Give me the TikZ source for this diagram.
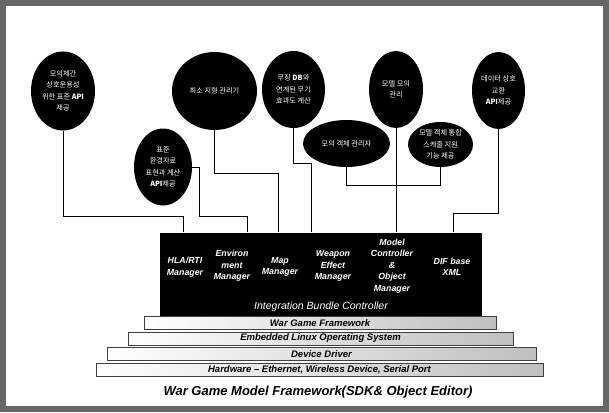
\documentclass[tikz,border=0pt]{standalone}
\usepackage{fontspec}
\setmainfont{Liberation Sans}
\newfontfamily\kr{Noto Sans CJK KR}
\usetikzlibrary{shapes.geometric}
\begin{document}
\begin{tikzpicture}[x=1pt,y=-1pt,
    bubble/.style={ellipse,fill=black,text=white,inner sep=0pt,align=center,font=\kr\fontsize{7.2}{11.5}\selectfont},
    wire/.style={line width=0.9pt},
    layer/.style={draw=black!75,line width=0.6pt,left color=white,right color=black!25,minimum height=13pt,inner sep=0pt,font=\bfseries\itshape\fontsize{9.5}{10}\selectfont},
    mgr/.style={text=white,align=center,font=\bfseries\itshape\fontsize{8.8}{11.6}\selectfont}]
    \useasboundingbox (0,0) rectangle (609,412);
    \fill[black!60] (0,0) rectangle (609,412);
    \fill[white] (6,6) rectangle (603,406);

    % integration bundle block
    \node[fill=black,minimum width=322pt,minimum height=84pt,inner sep=0pt] (blk) at (321,274.5) {};
    \node[mgr] (hla) at (185,267) {HLA/RTI\\Manager};
    \node[mgr] (env) at (232,266) {Environ\\ment\\Manager};
    \node[mgr] (map) at (280,267) {Map\\Manager};
    \node[mgr] (wpn) at (333,266) {Weapon\\Effect\\Manager};
    \node[mgr] (mdl) at (392,266) {Model\\Controller\\\&\\Object\\Manager};
    \node[mgr] (dif) at (452,267) {DIF base\\XML};
    \node[text=white,font=\itshape\fontsize{10.5}{12}\selectfont] (ibc) at (321,307) {Integration Bundle Controller};

    % layers
    \node[layer,minimum width=352pt] (wgf) at (320,323) {War Game Framework};
    \node[layer,minimum width=385pt] (elos) at (320.5,338.5) {Embedded Linux Operating System};
    \node[layer,minimum width=429pt] (dd) at (321.5,354) {Device Driver};
    \node[layer,minimum width=447pt] (hw) at (319.5,369.5) {Hardware -- Ethernet, Wireless Device, Serial Port};

    \node[font=\bfseries\itshape\fontsize{13}{15}\selectfont] (ttl) at (318,392) {War Game Model Framework(SDK\& Object Editor)};

    % bubbles
    \node[bubble,minimum width=64pt,minimum height=79pt] (e1) at (63,91) {모의체간\\상호운용성\\위한 표준 \textbf{API}\\제공};
    \node[bubble,minimum width=58pt,minimum height=77pt] (e2) at (163,167) {표준\\환경자료\\표현과 계산\\\textbf{API}제공};
    \node[bubble,minimum width=85pt,minimum height=78pt] (e3) at (214.5,91) {최소 지형 관리기};
    \node[bubble,minimum width=63pt,minimum height=77pt] (e4) at (293.5,89.5) {무장 \textbf{DB}와\\연계된 무기\\효과도 계산};
    \node[bubble,minimum width=54pt,minimum height=77pt] (e5) at (396,89.5) {모델 모의\\관리};
    \node[bubble,minimum width=87pt,minimum height=47pt] (e6) at (346.5,143.5) {모의 객체 관리자};
    \node[bubble,minimum width=65pt,minimum height=45pt] (e7) at (440.5,144.5) {모델 객체 통합\\스케줄 지원\\기능 제공};
    \node[bubble,minimum width=53pt,minimum height=77pt] (e8) at (498.5,90.5) {데이터 상호\\교환\\\textbf{API}제공};

    % connectors
    \coordinate (k1) at (183,216);
    \coordinate (k2) at (199,216);
    \coordinate (k2b) at (247,216);
    \coordinate (k3) at (278,173);
    \coordinate (k4) at (311,163);
    \coordinate (k6) at (346.5,185);
    \coordinate (k8) at (453,213);
    \draw[wire] (e1.south) |- (k1) -- (k1 |- blk.north);
    \draw[wire] (e2.east) -| (k2) -- (k2b) -- (k2b |- blk.north);
    \draw[wire] (e3.south) |- (k3) -- (k3 |- blk.north);
    \draw[wire] (e4.south) |- (k4) -- (k4 |- blk.north);
    \draw[wire] (e5.south) -- (e5.south |- blk.north);
    \draw[wire] (e6.south) -- (k6) -| (e7.south);
    \draw[wire] (e8.south) |- (k8) -- (k8 |- blk.north);
  \end{tikzpicture}
\end{document}
